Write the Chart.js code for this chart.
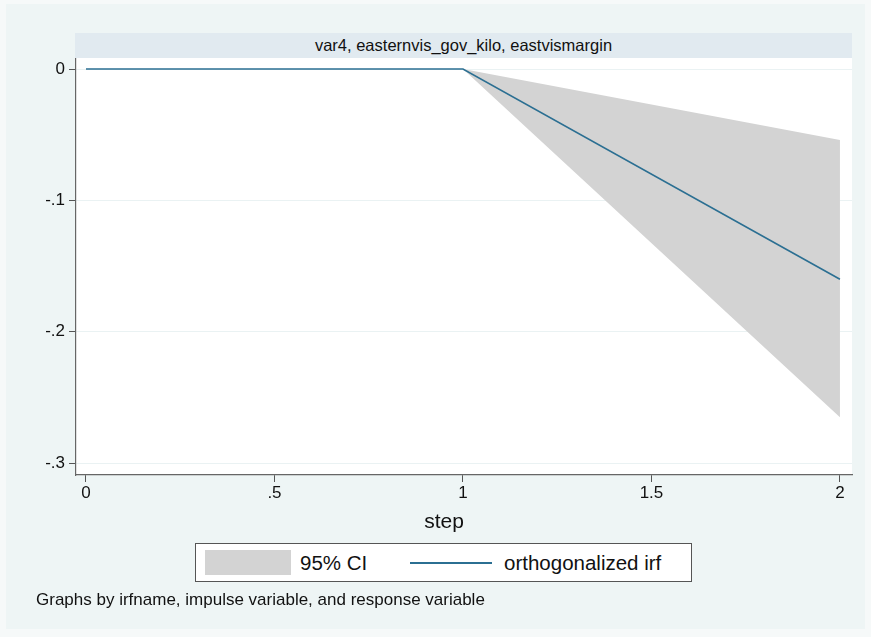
<!DOCTYPE html>
<html>
<head>
<meta charset="utf-8">
<script src="https://cdn.jsdelivr.net/npm/chart.js@4.4.1/dist/chart.umd.min.js"></script>
<style>
  html, body { margin: 0; padding: 0; background: #f6f9f9; }
  #wrap { position: relative; width: 871px; height: 637px; overflow: hidden;
          font-family: "Liberation Sans", Arial, sans-serif; }
  #frame { position: absolute; left: 6px; top: 4px; width: 859px; height: 625px; background: #eef5f5; }
  canvas { position: absolute; left: 0; top: 0; }
  #strip { position: absolute; left: 75px; top: 33px; width: 777px; height: 25px; background: #e1eaf0;
           font-size: 16.5px; color: #111; text-align: center; line-height: 25px; }
  #xtitle { position: absolute; left: 344px; width: 200px; top: 509px; text-align: center;
            font-size: 21px; color: #111; }
  #legend { position: absolute; left: 195px; top: 543px; width: 497px; height: 39px; background: #fff;
            border: 1px solid #555; box-sizing: border-box; font-size: 20.5px; color: #111; }
  #legend .sw { position: absolute; left: 9px; top: 6px; width: 86px; height: 25px; background: #d3d3d3; }
  #legend .ln { position: absolute; left: 214px; top: 18px; width: 82px; height: 2px; background: #2b6f92; }
  #legend .t1 { position: absolute; left: 104px; top: 7px; }
  #legend .t2 { position: absolute; left: 308px; top: 7px; }
  #note { position: absolute; left: 36px; top: 590px; font-size: 17px; color: #111; }
</style>
</head>
<body>
<div id="wrap">
  <div id="frame"></div>
  <canvas id="chart" width="871" height="637"></canvas>
  <div id="strip">var4, easternvis_gov_kilo, eastvismargin</div>
  <div id="xtitle">step</div>
  <div id="legend">
    <div class="sw"></div><span class="t1">95% CI</span>
    <div class="ln"></div><span class="t2">orthogonalized irf</span>
  </div>
  <div id="note">Graphs by irfname, impulse variable, and response variable</div>
</div>
<script>
// values
var steps = [0, 1, 2];
var irf = [0, 0, -0.160];
var ciUpper = [0, 0, -0.054];
var ciLower = [0, 0, -0.265];
var xTicks = [0, 0.5, 1, 1.5, 2];
var yTicks = [0, -0.1, -0.2, -0.3];

function pts(vals) {
  return steps.map(function (s, i) { return { x: s, y: vals[i] }; });
}

function stataLabel(v) {
  if (v === 0) return "0";
  var s = String(Math.round(v * 10) / 10);
  return s.replace("0.", ".");
}

// white plot region behind the data
var plotBg = {
  id: "plotBg",
  beforeDraw: function (chart) {
    var a = chart.chartArea, ctx = chart.ctx;
    ctx.save();
    ctx.fillStyle = "#ffffff";
    ctx.fillRect(a.left, a.top, a.right - a.left, a.bottom - a.top);
    ctx.restore();
  }
};

var canvas = document.getElementById("chart");
var context = canvas.getContext("2d");

new Chart(context, {
  type: "line",
  data: {
    datasets: [
      {
        label: "upper",
        data: pts(ciUpper),
        borderWidth: 0,
        pointRadius: 0,
        backgroundColor: "#d3d3d3",
        fill: "+1",
        tension: 0,
        order: 2
      },
      {
        label: "lower",
        data: pts(ciLower),
        borderWidth: 0,
        pointRadius: 0,
        fill: false,
        tension: 0,
        order: 2
      },
      {
        label: "orthogonalized irf",
        data: pts(irf),
        borderColor: "#2b6f92",
        borderWidth: 1.6,
        pointRadius: 0,
        fill: false,
        tension: 0,
        order: 0
      }
    ]
  },
  options: {
    responsive: false,
    animation: false,
    layout: { padding: { top: 58, right: 19, bottom: 132, left: 0 } },
    plugins: { legend: { display: false }, tooltip: { enabled: false } },
    scales: {
      x: {
        type: "linear",
        min: -0.0265,
        max: 2.032,
        afterBuildTicks: function (axis) {
          axis.ticks = xTicks.map(function (v) { return { value: v }; });
        },
        afterFit: function (axis) { axis.height = 30; },
        grid: { drawOnChartArea: false, tickLength: 7, tickColor: "#555" },
        border: { display: true, color: "#666", width: 1.2 },
        ticks: {
          color: "#111",
          font: { family: "Liberation Sans, Arial", size: 17 },
          padding: 1,
          maxRotation: 0,
          callback: function (v) { return stataLabel(v); }
        }
      },
      y: {
        type: "linear",
        min: -0.309,
        max: 0.0084,
        afterBuildTicks: function (axis) {
          axis.ticks = yTicks.map(function (v) { return { value: v }; });
        },
        afterFit: function (axis) { axis.width = 76; },
        grid: { color: "#eaf2f3", lineWidth: 1, tickLength: 7, tickColor: "#555" },
        border: { display: true, color: "#666", width: 1.2 },
        ticks: {
          color: "#111",
          font: { family: "Liberation Sans, Arial", size: 17 },
          padding: 4,
          callback: function (v) { return stataLabel(v); }
        }
      }
    }
  },
  plugins: [plotBg]
});
</script>
</body>
</html>
